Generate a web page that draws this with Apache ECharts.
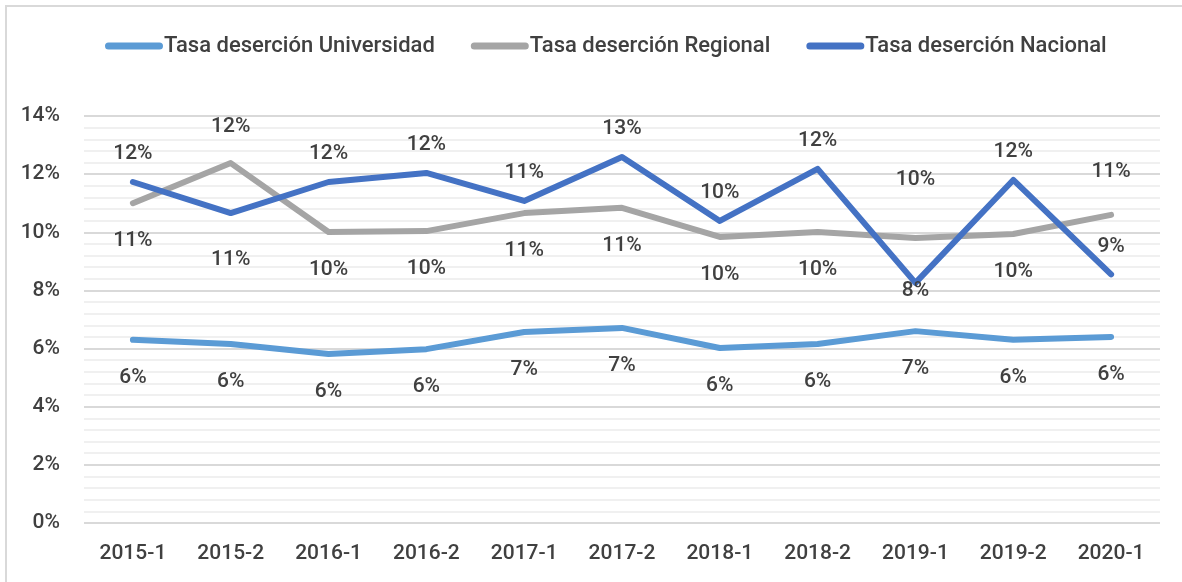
<!DOCTYPE html>
<html>
<head>
<meta charset="utf-8">
<script src="https://cdn.jsdelivr.net/npm/echarts@6/dist/echarts.min.js"></script>
<style>
  html, body { margin: 0; padding: 0; background: #fff; }
  #frame { position: absolute; left: 5px; top: 5px; width: 1177px; height: 577px;
           border-top: 2px solid #d9d9d9; border-left: 2px solid #d9d9d9; box-sizing: border-box; }
  #main { position: absolute; left: 0; top: 0; width: 1182px; height: 582px; }
</style>
</head>
<body>
<div id="frame"></div>
<div id="main"></div>
<script>
  const categories = ['2015-1','2015-2','2016-1','2016-2','2017-1','2017-2','2018-1','2018-2','2019-1','2019-2','2020-1'];
  const universidad = [6.30, 6.16, 5.81, 5.98, 6.57, 6.71, 6.02, 6.16, 6.60, 6.30, 6.40];
  const regional    = [11.00, 12.38, 10.01, 10.04, 10.66, 10.84, 9.84, 10.01, 9.80, 9.94, 10.60];
  const nacional    = [11.73, 10.66, 11.73, 12.04, 11.08, 12.59, 10.39, 12.18, 8.26, 11.80, 8.55];
  const yTicks = [0, 2, 4, 6, 8, 10, 12, 14];

  // label placement tweaks (index -> [position, dy])
  const regionalLabelTweak = { 1: ['top', -8], 8: ['top', -30], 10: ['top', -15] };
  const nacionalLabelTweak = { 1: ['bottom', 9], 8: ['bottom', -30] };

  const textColor = '#404040';
  const font = 'Roboto, sans-serif';
  const fs = 21;
  const distTop = 17, distBottom = 27;

  function build(values, tweaks) {
    return values.map(function (v, i) {
      const t = tweaks[i];
      const item = { value: v };
      if (t) item.label = { position: t[0], offset: [0, t[1]], distance: t[0] === 'top' ? distTop : distBottom };
      return item;
    });
  }

  const chart = echarts.init(document.getElementById('main'));
  const labelBase = {
    show: true, color: textColor, fontFamily: font, fontSize: fs, fontWeight: 500,
    formatter: function (p) { return Math.round(p.value) + '%'; }
  };
  const lineSeries = function (name, values, color, pos) {
    return {
      name: name, type: 'line', data: values,
      symbol: 'circle', symbolSize: 1, showSymbol: true,
      lineStyle: { color: color, width: 6, cap: 'round', join: 'round' },
      itemStyle: { color: color },
      label: Object.assign({}, labelBase, { position: pos, distance: pos === 'top' ? distTop : distBottom })
    };
  };

  chart.setOption({
    animation: false,
    textStyle: { fontFamily: font },
    legend: {
      top: 30, left: 100,
      itemWidth: 58, itemHeight: 7, itemGap: 36,
      icon: 'path://M3.5,0 L54.5,0 A3.5,3.5 0 0 1 54.5,7 L3.5,7 A3.5,3.5 0 0 1 3.5,0 Z',
      textStyle: { color: textColor, fontSize: 22, fontWeight: 500, fontFamily: font, padding: [0, 0, 0, -4] },
      data: ['Tasa deserción Universidad', 'Tasa deserción Regional', 'Tasa deserción Nacional']
    },
    grid: { left: 84, right: 22, top: 116, bottom: 59, containLabel: false },
    xAxis: {
      type: 'category', data: categories, boundaryGap: true,
      axisLine: { show: false }, axisTick: { show: false },
      axisLabel: { color: textColor, fontSize: fs, fontWeight: 500, fontFamily: font, margin: 20 }
    },
    yAxis: [{
      type: 'value', min: 0, max: 14, interval: 2,
      axisLine: { show: false }, axisTick: { show: false },
      axisLabel: { color: textColor, fontSize: fs, fontWeight: 500, fontFamily: font, margin: 24,
                   formatter: function (v) { return yTicks.indexOf(v) >= 0 ? v + '%' : ''; } },
      splitLine: { lineStyle: { color: '#d9d9d9', width: 2 } },
      minorTick: { show: false, splitNumber: 5 },
      minorSplitLine: { show: true, lineStyle: { color: '#f0f0f0', width: 2 } }
    }],
    series: [
      lineSeries('Tasa deserción Universidad', universidad, '#5b9bd5', 'bottom'),
      lineSeries('Tasa deserción Regional', build(regional, regionalLabelTweak), '#a5a5a5', 'bottom'),
      lineSeries('Tasa deserción Nacional', build(nacional, nacionalLabelTweak), '#4472c4', 'top')
    ]
  });
</script>
</body>
</html>
